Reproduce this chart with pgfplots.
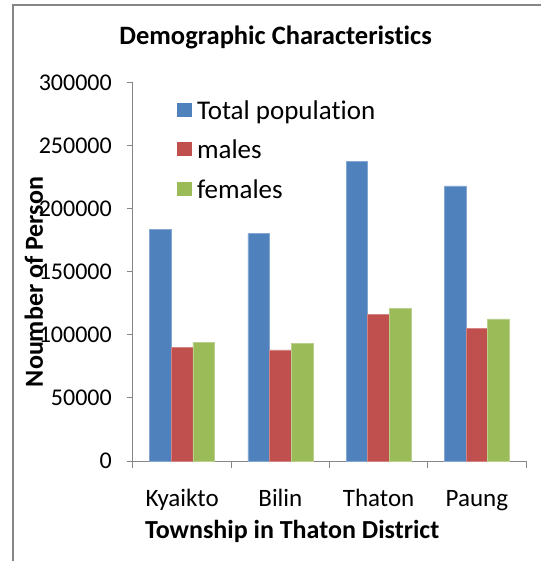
\documentclass[border=0pt]{standalone}
\usepackage{pgfplots}
\pgfplotsset{compat=1.18}
\usepackage{fontspec}
\setmainfont{Carlito}[Ligatures=NoCommon]
\definecolor{axisgray}{HTML}{868686}
\definecolor{xblue}{HTML}{4F81BD}
\definecolor{xred}{HTML}{C0504D}
\definecolor{xgreen}{HTML}{9BBB59}
\begin{document}
\begin{tikzpicture}[x=1pt,y=1pt]
\path[use as bounding box] (-133,-100) rectangle (407,461);
\draw[axisgray,line width=1.5pt] (-120,-110) -- (-120,456) -- (420,456);
\begin{axis}[
  at={(0,0)}, anchor=south west,
  scale only axis, width=393pt, height=378pt,
  ymin=0, ymax=300000, xmin=-0.5, xmax=3.5,
  ytick={0,50000,100000,150000,200000,250000,300000},
  /pgf/number format/.cd, fixed, 1000 sep={}, assume math mode=true, /pgfplots/.cd,
  scaled y ticks=false,
  axis x line*=bottom, axis y line*=left,
  axis line style={axisgray, line width=1pt},
  x axis line style={shorten <=-6pt},
  tick align=outside, major tick length=6pt,
  ytick style={axisgray, line width=1pt},
  xtick={0,1,2,3},
  xticklabels={Kyaikto,Bilin,Thaton,Paung},
  xtick style={draw=none},
  extra x ticks={-0.5,0.5,1.5,2.5,3.5},
  extra x tick labels={},
  extra x tick style={xtick style={draw=axisgray, line width=1pt}, major tick length=7pt},
  xticklabel style={font=\fontsize{25}{30}\selectfont, anchor=base, inner sep=0pt, yshift=-39pt},
  yticklabel style={font=\fontsize{24}{29}\selectfont, anchor=east, inner sep=0pt, xshift=-15pt},
  ybar=0pt, bar width=21.7pt,
  title={Demographic Characteristics},
  title style={font=\fontsize{26.5}{31}\selectfont\bfseries, at={(axis description cs:0.363,1.087)}, anchor=base, inner sep=0pt},
  xlabel={Township in Thaton District},
  xlabel style={font=\fontsize{26}{31}\selectfont\bfseries, at={(axis description cs:0.405,-0.204)}, anchor=base, inner sep=0pt},
  ylabel={Noumber of Person},
  ylabel style={font=\fontsize{26}{31}\selectfont\bfseries, at={(axis description cs:-0.229,0.4735)}, anchor=base, inner sep=0pt},
  legend cell align=left,
  legend style={at={(axis description cs:0.112,0.955)}, anchor=north west, draw=none, fill=none,
    font=\fontsize{27}{32}\selectfont, inner sep=0pt, outer sep=0pt, row sep=14.5pt, column sep=5pt,
    nodes={text height=19pt, text depth=6pt, inner sep=0pt}},
  legend image code/.code={\fill[#1,draw=none] (0pt,-4pt) rectangle (15pt,10pt);},
  every axis plot/.append style={line width=0.6pt},
]
\addplot[fill=xblue, draw=xblue!70!white] coordinates {(0,184100) (1,180700) (2,237500) (3,218300)};
\addplot[fill=xred, draw=xred!70!white] coordinates {(0,90200) (1,88100) (2,116400) (3,105300)};
\addplot[fill=xgreen, draw=xgreen!70!white] coordinates {(0,94400) (1,93100) (2,121400) (3,112700)};
\legend{Total population, males, females}
\end{axis}
\end{tikzpicture}
\end{document}
